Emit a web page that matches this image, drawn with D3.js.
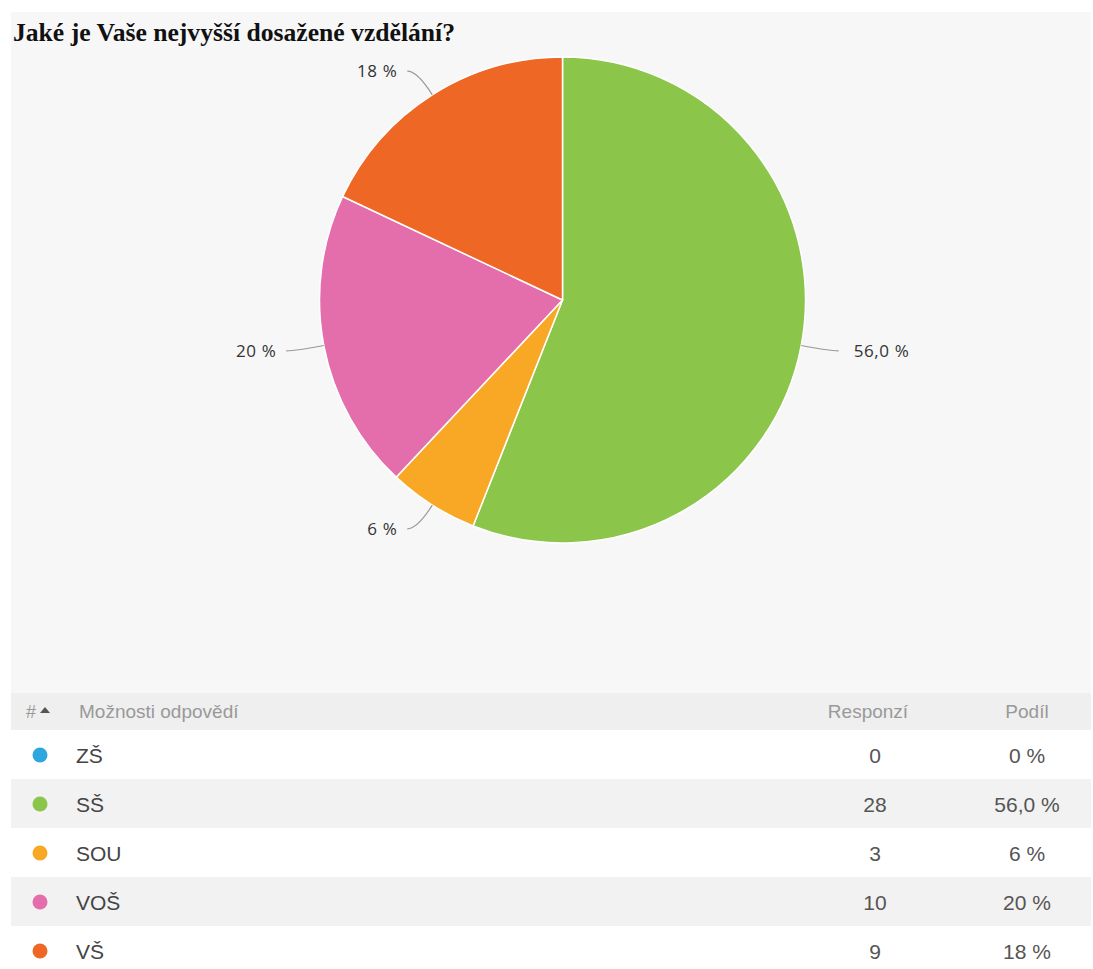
<!DOCTYPE html>
<html lang="cs">
<head>
<meta charset="utf-8">
<script src="https://cdn.jsdelivr.net/npm/d3@7"></script>
<style>
  html, body { margin: 0; padding: 0; background: #ffffff; }
  svg { display: block; }
</style>
</head>
<body>
<script>
// Survey answers: education level
const categories = ["ZŠ", "SŠ", "SOU", "VOŠ", "VŠ"];
const responses  = [0, 28, 3, 10, 9];
const shareLabels = ["0 %", "56,0 %", "6 %", "20 %", "18 %"];
const colors = ["#2ba6df", "#8bc54a", "#f9a826", "#e46eac", "#ee6724"];
const headers = ["#", "Možnosti odpovědí", "Responzí", "Podíl"];
const title = "Jaké je Vaše nejvyšší dosažené vzdělání?";

const W = 1093, H = 969;
const svg = d3.select("body").append("svg").attr("width", W).attr("height", H);

// Chart panel
svg.append("rect").attr("x", 11).attr("y", 12).attr("width", 1080).attr("height", 681)
  .attr("fill", "#f7f7f7");

svg.append("text").attr("x", 13).attr("y", 41)
  .attr("font-family", "'Liberation Serif', 'Times New Roman', serif")
  .attr("font-weight", "bold").attr("font-size", 25).attr("fill", "#111")
  .attr("textLength", 442).attr("lengthAdjust", "spacingAndGlyphs")
  .text(title);

// Pie
const cx = 562.5, cy = 300, r = 243;
const data = categories.map((c, i) => ({ cat: c, value: responses[i], color: colors[i], label: shareLabels[i] }));
const pie = d3.pie().value(d => d.value).sort(null);
const arcs = pie(data);
const arc = d3.arc().innerRadius(0).outerRadius(r);

const g = svg.append("g").attr("transform", `translate(${cx},${cy})`);
g.selectAll("path.slice").data(arcs.filter(a => a.data.value > 0)).join("path")
  .attr("class", "slice")
  .attr("d", arc)
  .attr("fill", d => d.data.color)
  .attr("stroke", "#ffffff").attr("stroke-width", 1.5).attr("stroke-linejoin", "round");

// Data labels with connectors
const labelled = arcs.filter(a => a.data.value > 0);
labelled.forEach(a => {
  const mid = (a.startAngle + a.endAngle) / 2;
  const sx = Math.sin(mid), sy = -Math.cos(mid);
  const right = sx > 0;
  const e = [r * sx, r * sy];
  const c = [(r + 28) * sx, (r + 28) * sy];
  const end = [c[0] + (right ? 10 : -10), c[1]];
  g.append("path")
    .attr("d", `M${e[0]},${e[1]} Q${c[0]},${c[1]} ${end[0]},${end[1]}`)
    .attr("fill", "none").attr("stroke", "#999").attr("stroke-width", 1.2);
  g.append("text")
    .attr("x", end[0] + (right ? 15 : -10))
    .attr("y", end[1] + 6)
    .attr("text-anchor", right ? "start" : "end")
    .attr("font-family", "'Open Sans', 'Noto Sans', sans-serif")
    .attr("font-size", 17).attr("letter-spacing", 0.6).attr("fill", "#333")
    .text(a.data.label);
});

// Results table
const tableX = 11, tableW = 1080, headY = 693, headH = 37, rowH = 49;
const font = "'Liberation Sans', Arial, sans-serif";
const colResp = 875, colShare = 1027;

svg.append("rect").attr("x", tableX).attr("y", headY).attr("width", tableW).attr("height", headH)
  .attr("fill", "#efefef");
svg.append("text").attr("x", 26).attr("y", headY + 25)
  .attr("font-family", font).attr("font-size", 18).attr("fill", "#999").text(headers[0]);
svg.append("path").attr("d", `M40,${headY + 20} l5,-6 l5,6 z`).attr("fill", "#555");
svg.append("text").attr("x", 79).attr("y", headY + 25)
  .attr("font-family", font).attr("font-size", 19).attr("fill", "#999").text(headers[1]);
svg.append("text").attr("x", 868).attr("y", headY + 25).attr("text-anchor", "middle")
  .attr("font-family", font).attr("font-size", 19).attr("fill", "#999").text(headers[2]);
svg.append("text").attr("x", 1027).attr("y", headY + 25).attr("text-anchor", "middle")
  .attr("font-family", font).attr("font-size", 19).attr("fill", "#999").text(headers[3]);

const rows = svg.selectAll("g.row").data(data).join("g")
  .attr("class", "row")
  .attr("transform", (d, i) => `translate(0,${headY + headH + i * rowH})`);
rows.append("rect").attr("x", tableX).attr("width", tableW).attr("height", rowH)
  .attr("fill", (d, i) => i % 2 ? "#f2f2f2" : "#ffffff");
rows.append("circle").attr("cx", 40).attr("cy", 25).attr("r", 7.5).attr("fill", d => d.color);
rows.append("text").attr("x", 76).attr("y", 33)
  .attr("font-family", font).attr("font-size", 21).attr("fill", "#444").text(d => d.cat);
rows.append("text").attr("x", colResp).attr("y", 33).attr("text-anchor", "middle")
  .attr("font-family", font).attr("font-size", 21).attr("fill", "#555").text(d => d.value);
rows.append("text").attr("x", colShare).attr("y", 33).attr("text-anchor", "middle")
  .attr("font-family", font).attr("font-size", 21).attr("fill", "#555").text(d => d.label);
</script>
</body>
</html>
